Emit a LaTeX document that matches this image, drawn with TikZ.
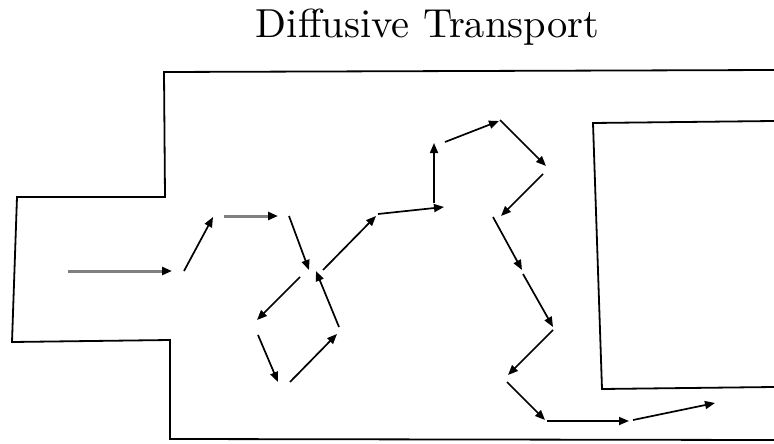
\documentclass[tikz,border=0pt]{standalone}
\usetikzlibrary{arrows.meta}
\font\titlefont="[lmroman10-regular]:mapping=tex-text" at 40.5pt
\begin{document}
\begin{tikzpicture}[x=1pt,y=-1pt,
  wall/.style={line width=1.8pt,line join=miter},
  hop/.style={line width=1.7pt,-{Triangle[length=10pt,width=8pt]}},
  hopgray/.style={line width=3pt,draw=black!50,-{Triangle[length=10pt,width=8pt,color=black]}}]
\useasboundingbox (0,0) rectangle (774,444);
\node[font=\titlefont,anchor=base,inner sep=0pt] (title) at (427.5,38) {Diffusive Transport};
% channel outline
\draw[wall] (774,70) -- (164,72) -- (165,197) -- (17,197) -- (12,342) -- (170,340) -- (170,439) -- (774,440);
% obstacle
\draw[wall] (774,121) -- (593,123) -- (602,389) -- (774,387);
% random walk
\coordinate (a1) at (68,271);   \coordinate (b1) at (172,271);
\coordinate (a2) at (184,271);  \coordinate (b2) at (213,217);
\coordinate (a3) at (224,216);  \coordinate (b3) at (278,216);
\coordinate (a4) at (289,216);  \coordinate (b4) at (309,270);
\coordinate (a5) at (300,277);  \coordinate (b5) at (257,320);
\coordinate (a6) at (258,335);  \coordinate (b6) at (278,382);
\coordinate (a7) at (290,382);  \coordinate (b7) at (337,334);
\coordinate (a8) at (339,327);  \coordinate (b8) at (316,271);
\coordinate (a9) at (323,270);  \coordinate (b9) at (376,216);
\coordinate (a10) at (378,214); \coordinate (b10) at (444,207);
\coordinate (a11) at (434,203); \coordinate (b11) at (434,143);
\coordinate (a12) at (445,142); \coordinate (b12) at (499,121);
\coordinate (a13) at (500,120); \coordinate (b13) at (546,166);
\coordinate (a14) at (543,174); \coordinate (b14) at (501,216);
\coordinate (a15) at (493,217); \coordinate (b15) at (522,270);
\coordinate (a16) at (523,274); \coordinate (b16) at (553,327);
\coordinate (a17) at (553,330); \coordinate (b17) at (508,375);
\coordinate (a18) at (507,382); \coordinate (b18) at (545,420);
\coordinate (a19) at (547,421); \coordinate (b19) at (629,421);
\coordinate (a20) at (633,420); \coordinate (b20) at (715,403);
\draw[hopgray] (a1) -- (b1);
\draw[hop] (a2) -- (b2);
\draw[hopgray] (a3) -- (b3);
\foreach \i in {4,...,20} {\draw[hop] (a\i) -- (b\i);}
\end{tikzpicture}
\end{document}
